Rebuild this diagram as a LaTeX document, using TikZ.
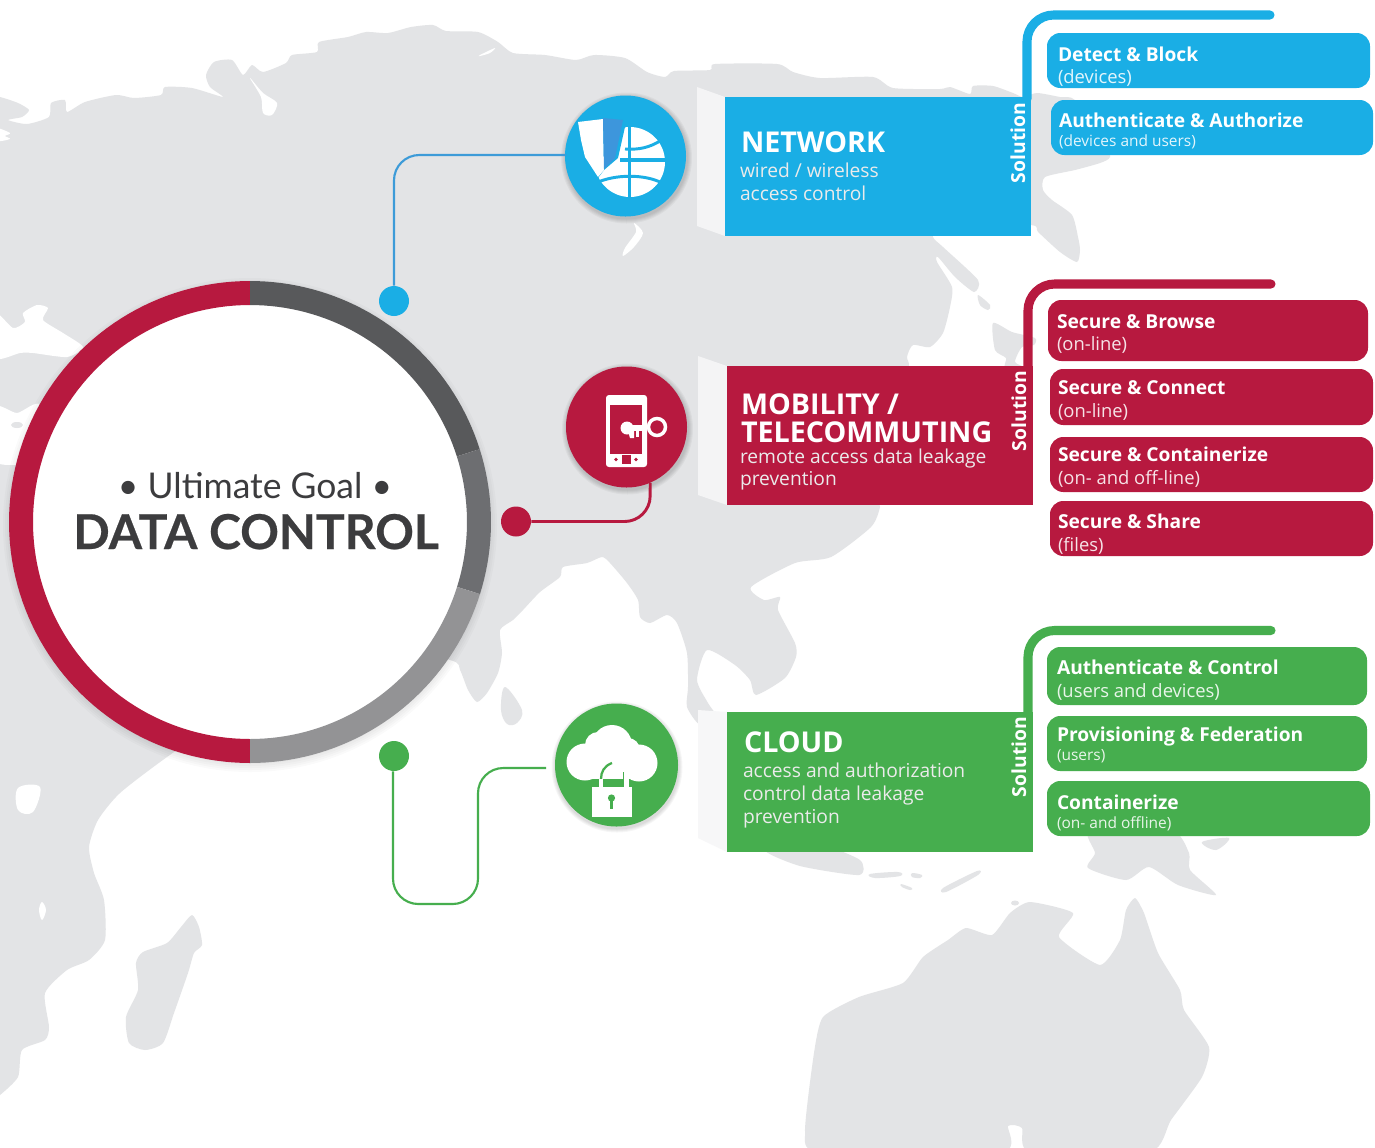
\documentclass[tikz,border=0pt]{standalone}
\usepackage{fontspec}
\setmainfont{Open Sans}
\newfontfamily\latofont[BoldFeatures={FakeBold=0.5}]{Lato}
\definecolor{mapgray}{HTML}{E3E4E6}
\definecolor{netblue}{HTML}{1AAEE5}
\definecolor{linkblue}{HTML}{3D9BD8}
\definecolor{shieldblue}{HTML}{3D96DC}
\definecolor{mobred}{HTML}{B7193F}
\definecolor{cloudgreen}{HTML}{46AE4E}
\definecolor{ringa}{HTML}{58595B}
\definecolor{ringb}{HTML}{6D6E71}
\definecolor{ringc}{HTML}{939395}
\definecolor{inkdark}{HTML}{3C3C3E}
\newcommand{\fsz}[1]{\fontsize{#1}{#1}\selectfont}
\tikzset{
  land/.style={fill=mapgray,draw=none},
  sea/.style={fill=white,draw=none},
  txt/.style={anchor=base west,inner sep=0pt,outer sep=0pt,text=white},
  bigtitle/.style={txt,font=\fsz{21.5}\bfseries},
  bodyline/.style={txt,font=\fsz{14.4},text=white!92!black},
  itemtitle/.style={txt,font=\fsz{14.4}\bfseries},
  itemsub/.style={txt,font=\fsz{13.8},text opacity=.88},
  itemsubsmall/.style={txt,font=\fsz{11.6},text opacity=.88},
  soltxt/.style={txt,font=\fsz{14.5}\bfseries,rotate=90},
  mainbox/.style={anchor=north west,inner sep=0pt,minimum height=#1},
  linkline/.style={line width=1.6pt,rounded corners=19pt},
  bracketline/.style={line width=6.8pt,line cap=round,rounded corners=20pt},
  icondisc/.style={circle,inner sep=0pt,text opacity=0},
  dotnode/.style={circle,inner sep=0pt,minimum size=22.5pt},
}
\begin{document}
\begin{tikzpicture}[x=0.75pt,y=-0.75pt]
\useasboundingbox (0,0) rectangle (1375,1147);
\fill[white] (0,0) rectangle (1375,1147);

% ---------- map ----------
\fill[land] plot[smooth cycle,tension=0.4] coordinates {
(-10,97)(0,97)(18,103)(29,110)(22,117)(8,120)(27,124)(49,117)(51,103)(65,100)(67,112)(85,102)(116,95)(134,98)(161,95)(165,87)(192,88)(223,97)(210,87)(206,75)(214,62)(232,60)(243,75)(252,65)(263,72)(286,63)(292,55)(317,52)(319,42)(348,37)(366,32)(388,33)(411,27)(433,25)(446,31)(478,32)(498,42)(513,53)(545,55)(576,60)(594,55)(625,58)(647,72)(665,77)(674,71)(710,70)(715,64)(777,64)(793,72)(820,78)(873,77)(893,88)(940,89)(950,87)(970,94)(973,86)(993,86)(1013,93)(1023,97)(1037,93)(1060,97)(1075,100)(1105,140)(1110,157)(1100,163)(1075,170)(1045,177)(1043,190)(1052,200)(1072,215)(1078,237)(1080,250)(1077,262)(1060,252)(1038,232)(1030,225)(940,225)(933,237)(943,247)(978,280)(974,292)(955,277)(938,257)(937,262)(952,287)(950,307)(943,333)(930,347)(913,345)(907,357)(908,375)(880,490)(880,507)(871,527)(831,557)(795,563)(751,587)(764,600)(780,597)(778,610)(795,643)(796,657)(785,678)(756,695)(750,680)(735,665)(707,650)(697,680)(708,703)(720,722)(700,725)(687,707)(688,687)(687,653)(677,623)(667,615)(650,623)(640,617)(638,600)(627,583)(610,563)(602,557)(587,563)(563,567)(560,577)(540,592)(523,610)(513,620)(500,630)(502,653)(498,673)(487,693)(477,702)(468,690)(460,670)(450,660)(350,640)(250,700)(167,757)(120,793)(98,820)(89,847)(94,873)(104,900)(105,940)(89,960)(67,970)(45,993)(49,1027)(45,1040)(22,1050)(18,1077)(0,1095)(-10,1100)};
% seas and lakes
\fill[sea] plot[smooth cycle,tension=0.5] coordinates {(-5,128)(10,133)(5,136)(10,139)(-5,141)};
\fill[sea] plot[smooth cycle,tension=0.5] coordinates {(250,78)(263,93)(277,103)(272,115)(263,113)(261,97)};
\fill[sea] plot[smooth cycle,tension=0.5] coordinates {(480,55)(495,48)(490,53)(480,56)};
\fill[sea] plot[smooth cycle,tension=0.5] coordinates {(634,223)(643,233)(634,247)(623,256)(625,248)(636,232)};
\fill[sea] plot[smooth cycle,tension=0.4] coordinates {(-5,313)(13,328)(25,322)(23,313)(37,305)(48,308)(43,320)(63,333)(83,347)(67,357)(33,353)(20,353)(-5,358)};
\fill[sea] plot[smooth cycle,tension=0.4] coordinates {(-5,407)(17,413)(40,405)(45,465)(15,465)(-5,460)};
\fill[land] (17,425) ellipse [x radius=6,y radius=3];
\fill[sea] plot[smooth cycle,tension=0.6] coordinates {(18,788)(40,787)(33,812)(18,810)};
\fill[sea] plot[smooth cycle,tension=0.6] coordinates {(42,902)(46,910)(42,920)(39,910)};
% islands
\fill[land] plot[smooth cycle,tension=0.4] coordinates {(192,915)(199,927)(202,945)(194,953)(188,973)(174,1013)(163,1043)(145,1050)(129,1043)(126,1017)(138,990)(136,963)(143,952)(167,943)(181,927)};
\fill[land] plot[smooth cycle,tension=0.6] coordinates {(505,687)(522,710)(517,723)(507,724)(501,710)};
\fill[land] plot[smooth cycle,tension=0.5] coordinates {(978,295)(990,305)(988,310)(980,305)};
\fill[land] plot[smooth cycle,tension=0.4] coordinates {(993,323)(1012,332)(1035,338)(1034,345)(1022,347)(1015,362)(1026,368)(1005,368)(1006,358)(995,350)};
\fill[land] plot[smooth cycle,tension=0.4] coordinates {(765,850)(800,866)(859,875)(860,860)(820,845)};
\fill[land] plot[smooth cycle,tension=0.6] coordinates {(870,874)(898,872)(900,876)(875,878)};
\fill[land] plot[smooth cycle,tension=0.6] coordinates {(912,873)(922,875)(920,878)(912,877)};
\fill[land] plot[smooth cycle,tension=0.6] coordinates {(901,884)(912,888)(910,890)(902,887)};
\fill[land] plot[smooth cycle,tension=0.5] coordinates {(943,888)(977,871)(978,875)(946,892)};
\fill[land] plot[smooth cycle,tension=0.4] coordinates {(1090,830)(1095,853)(1088,868)(1126,880)(1149,867)(1178,885)(1216,895)(1190,870)(1189,853)(1171,830)};
\fill[land] plot[smooth cycle,tension=0.6] coordinates {(1202,842)(1229,838)(1216,850)};
\fill[land] (1015,903) ellipse [x radius=4,y radius=2.5];
\fill[land] plot[smooth cycle,tension=0.35] coordinates {(1030,902)(1073,913)(1059,937)(1100,965)(1120,940)(1126,910)(1135,898)(1144,913)(1158,953)(1180,990)(1184,1010)(1209,1047)(1202,1077)(1171,1120)(1150,1152)(1030,1152)(1022,1128)(1008,1126)(1002,1152)(820,1152)(805,1132)(814,1053)(823,1017)(859,997)(903,983)(923,957)(948,940)(966,928)(992,935)(1010,913)};

% faint panels beside the boxes
\fill[white!60!mapgray] (697,87) -- (725,97) -- (725,236) -- (697,226) -- cycle;
\fill[white!60!mapgray] (698,356) -- (727,366) -- (727,505) -- (698,495) -- cycle;
\fill[white!70!mapgray] (698,710) -- (727,712) -- (727,852) -- (698,838) -- cycle;

% ---------- central ring ----------
\foreach \k in {1,...,6}
  \fill[black,opacity=.018] (250,525) circle ({235+\k*2});
\node[circle,fill=white,inner sep=0pt,minimum size=355pt] (goalcircle) at (250,522) {};
\fill[mobred] plot[domain=90:270,samples=90] ({250+241*cos(\x)},{522-241*sin(\x)}) -- plot[domain=270:90,samples=90] ({250+217*cos(\x)},{522-217*sin(\x)}) -- cycle;
\fill[ringa] plot[domain=90:17.6,samples=40] ({250+241*cos(\x)},{522-241*sin(\x)}) -- plot[domain=17.6:90,samples=40] ({250+217*cos(\x)},{522-217*sin(\x)}) -- cycle;
\fill[ringb] plot[domain=17.6:-17.4,samples=20] ({250+241*cos(\x)},{522-241*sin(\x)}) -- plot[domain=-17.4:17.6,samples=20] ({250+217*cos(\x)},{522-217*sin(\x)}) -- cycle;
\fill[ringc] plot[domain=-17.4:-90,samples=40] ({250+241*cos(\x)},{522-241*sin(\x)}) -- plot[domain=-90:-17.4,samples=40] ({250+217*cos(\x)},{522-217*sin(\x)}) -- cycle;
\node[anchor=base,inner sep=0pt,text=inkdark,font=\latofont\fsz{26.6}] (goalup) at (255,498) {• Ultimate Goal •};
\node[anchor=base,inner sep=0pt,text=inkdark,font=\latofont\fsz{36}\bfseries] (goaldown) at (256,549) {DATA CONTROL};

% ---------- icon discs and dots ----------
\foreach \c/\cx/\cy/\rr in {a/625.5/156/60.5,b/626.5/427/60.5}{
  \foreach \k in {1,...,5}
    \fill[black,opacity=.035] (\cx+1,\cy+2) circle ({\rr+\k*1.0});
}
\fill[white] (613,768) circle (66);
\foreach \k in {1,...,4}
  \fill[black,opacity=.035] (617,767) circle ({61.5+\k*1.0});
\node[icondisc,fill=netblue,minimum size=90.75pt] (neticon) at (625.5,156) {};
\node[icondisc,fill=mobred,minimum size=90.75pt] (mobicon) at (626.5,427) {};
\node[icondisc,fill=cloudgreen,minimum size=92.25pt] (cloudicon) at (616.5,765) {};

\node[dotnode,fill=netblue] (netdot) at (394,301) {};
\node[dotnode,fill=mobred] (mobdot) at (516,521.5) {};
\node[dotnode,fill=cloudgreen] (clouddot) at (394,756) {};

% ---------- connectors ----------
\coordinate (cloudend) at (546,768);
\coordinate (cloudturnA) at (478,768);
\coordinate (cloudturnB) at (478,904);
\coordinate (cloudturnC) at (393,904);
\coordinate (netturn) at (394,155);
\coordinate (netstart) at (566,155);
\draw[linkline,linkblue] (netstart) -- (netturn) -- (netdot);
\coordinate (mobturn) at (650,521.5);
\draw[linkline,mobred,line width=2.2pt] (mobicon.293) -- (mobturn) -- (mobdot);
\draw[linkline,cloudgreen] (cloudend) -- (cloudturnA) -- (cloudturnB) -- (cloudturnC) -- (clouddot.south -| cloudturnC);

% ---------- network icon ----------
\fill[white] (630,162) circle (35);
\begin{scope}
\clip (625.5,156) circle (60);
\fill[netblue] (575,113) -- (625,113) -- (625,127) -- (618,158) -- (604,170) -- (598,178) -- (575,178) -- cycle;
\end{scope}
\fill[white] (578,122) -- (603,119) -- (604,170) -- (598,177) -- (585,157) -- (581,140) -- cycle;
\fill[shieldblue] (603,118) -- (623,120) -- (615,158) -- (604,169) -- cycle;
\draw[netblue,line width=2.4pt] (629.5,122) -- (629.5,200);
\draw[netblue,line width=2.4pt] (620,160) -- (668,160);
\draw[netblue,line width=2.2pt] (625,149) .. controls (640,150) and (650,147) .. (660,141);
\draw[netblue,line width=2.2pt] (596,183) .. controls (615,174) and (645,174) .. (662,183);

% ---------- phone icon ----------
\fill[white,rounded corners=2.2pt] (606,395) rectangle (647,467);
\fill[mobred] (610,405) rectangle (642,454);
\fill[mobred] (622,455) rectangle (631,464);
\fill[mobred] (616,459.5) circle (1.8);
\fill[mobred] (636,459.5) circle (1.8);
\draw[white,line width=2.6pt] (657,427) circle (8.5);
\draw[white,line width=3.2pt] (625,427) -- (649,427);
\fill[white] (627,428) circle (6.5);
\fill[white] (627,428) -- (634,428) -- (634,438) -- (630,438) -- cycle;
\fill[white] (636,428) rectangle (639,437);
\fill[white] (633,428) rectangle (644,431);

% ---------- cloud icon ----------
\fill[white] (585,762) circle (18.5);
\fill[white] (598,745) circle (13);
\fill[white] (612,745) circle (20);
\fill[white] (628,750) circle (12);
\fill[white] (639,763) circle (18.5);
\fill[white] (585,755) rectangle (640,778.5);
\draw[cloudgreen,line width=1.7pt] (612,763) .. controls (604,766) and (601,772) .. (601,779);
\draw[white,line width=3pt] (601,779) -- (601,788);
\fill[white] (624,778) rectangle (629,788);
\draw[cloudgreen,line width=1pt] (623.5,772) -- (623.5,788);
\fill[white] (592,787) rectangle (632,817);
\fill[cloudgreen] (611.5,798) circle (3.6);
\fill[cloudgreen] (610,799) rectangle (613,809);

% ---------- brackets ----------
\coordinate (netbrA) at (1027,99);
\coordinate (netbrB) at (1027,15);
\coordinate (netbrC) at (1270,15);
\coordinate (mobbrA) at (1028,368);
\coordinate (mobbrB) at (1028,284);
\coordinate (mobbrC) at (1271,284);
\coordinate (cloudbrA) at (1028,714);
\coordinate (cloudbrB) at (1028,630.5);
\coordinate (cloudbrC) at (1271,630.5);
\draw[bracketline,netblue] (netbrA) -- (netbrB) -- (netbrC);
\draw[bracketline,mobred] (mobbrA) -- (mobbrB) -- (mobbrC);
\draw[bracketline,cloudgreen] (cloudbrA) -- (cloudbrB) -- (cloudbrC);

% ---------- main boxes ----------
\node[mainbox=104.25pt,minimum width=229.5pt,fill=netblue] (netbox) at (725,97) {};
\node[mainbox=104.25pt,minimum width=229.5pt,fill=mobred] (mobbox) at (727,366) {};
\node[mainbox=105pt,minimum width=229.5pt,fill=cloudgreen] (cloudbox) at (727,712) {};

\node[bigtitle] (nettitle) at (741,152) {NETWORK};
\node[bodyline] (netl1) at (740,177) {wired / wireless};
\node[bodyline] (netl2) at (740,200) {access control};
\node[soltxt] (netsol) at (1025,183) {Solution};

\node[bigtitle] (mobt1) at (741,414) {MOBILITY /};
\node[bigtitle] (mobt2) at (741,442) {TELECOMMUTING};
\node[bodyline] (mobl1) at (740,463) {remote access data leakage};
\node[bodyline] (mobl2) at (740,485) {prevention};
\node[soltxt] (mobsol) at (1026,451) {Solution};

\node[bigtitle] (cloudtitle) at (744,752.5) {CLOUD};
\node[bodyline] (cloudl1) at (743,777) {access and authorization};
\node[bodyline] (cloudl2) at (743,800) {control data leakage};
\node[bodyline] (cloudl3) at (743,823) {prevention};
\node[soltxt] (cloudsol) at (1026,797) {Solution};

% ---------- item boxes ----------
\fill[netblue,rounded corners=10pt] (1047,33) rectangle (1370,88);
\fill[netblue,rounded corners=10pt] (1051,100) rectangle (1373,155);
\fill[mobred,rounded corners=10pt] (1048,300) rectangle (1368,361);
\fill[mobred,rounded corners=10pt] (1050,369) rectangle (1373,425);
\fill[mobred,rounded corners=10pt] (1050,437) rectangle (1373,492);
\fill[mobred,rounded corners=10pt] (1050,501) rectangle (1373,556);
\fill[cloudgreen,rounded corners=10pt] (1047,647) rectangle (1367,705);
\fill[cloudgreen,rounded corners=10pt] (1047,716) rectangle (1367,771);
\fill[cloudgreen,rounded corners=10pt] (1047,781) rectangle (1370,836);

\node[itemtitle] (i1) at (1058,61) {Detect \& Block};
\node[itemsub] (s1) at (1058,83) {(devices)};
\node[itemtitle] (i2) at (1059,127) {Authenticate \& Authorize};
\node[itemsubsmall] (s2) at (1059,146) {(devices and users)};

\node[itemtitle] (i3) at (1057,328) {Secure \& Browse};
\node[itemsub] (s3) at (1057,350) {(on-line)};
\node[itemtitle] (i4) at (1058,394) {Secure \& Connect};
\node[itemsub] (s4) at (1058,417) {(on-line)};
\node[itemtitle] (i5) at (1058,461) {Secure \& Containerize};
\node[itemsub] (s5) at (1058,484) {(on- and off-line)};
\node[itemtitle] (i6) at (1058,528) {Secure \& Share};
\node[itemsub] (s6) at (1058,551) {(files)};

\node[itemtitle] (i7) at (1057,674) {Authenticate \& Control};
\node[itemsub] (s7) at (1057,697) {(users and devices)};
\node[itemtitle] (i8) at (1057,741) {Provisioning \& Federation};
\node[itemsubsmall] (s8) at (1057,760) {(users)};
\node[itemtitle] (i9) at (1057,809) {Containerize};
\node[itemsubsmall] (s9) at (1057,828) {(on- and offline)};
\end{tikzpicture}
\end{document}
